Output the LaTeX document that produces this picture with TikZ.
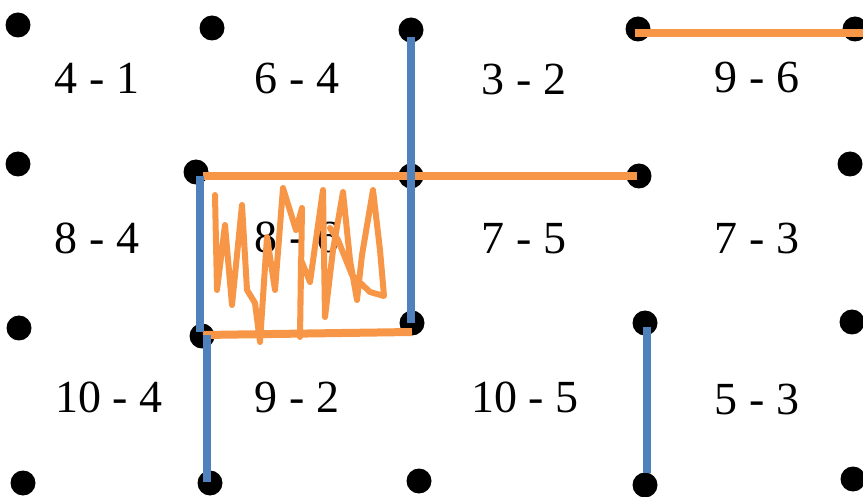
\documentclass[tikz,border=0pt]{standalone}
\usepackage{fontspec}
\setmainfont{Liberation Serif}
\usetikzlibrary{calc}
\definecolor{oblue}{HTML}{4F81BD}
\definecolor{oorange}{HTML}{F79646}
\begin{document}
\begin{tikzpicture}[x=1pt,y=-1pt,
  dot/.style={circle,fill=black,inner sep=0pt,minimum width=24pt,minimum height=25pt},
  lbl/.style={font=\fontsize{46}{50}\selectfont,inner sep=0pt,anchor=base},
  bline/.style={draw=oblue,line width=8pt},
  oline/.style={draw=oorange,line width=8pt},
  scrib/.style={draw=oorange,line width=6pt,line join=round,line cap=round}]
\useasboundingbox (0,0) rectangle (863,497);
% dots
\node[dot] (d11) at (18,25) {};
\node[dot] (d12) at (212,28) {};
\node[dot] (d13) at (411,30) {};
\node[dot] (d14) at (638,29) {};
\node[dot] (d15) at (855,29) {};
\node[dot] (d21) at (18,164) {};
\node[dot] (d22) at (196,172) {};
\node[dot] (d23) at (411,176) {};
\node[dot] (d24) at (639,176) {};
\node[dot] (d25) at (850,164) {};
\node[dot] (d31) at (19,328) {};
\node[dot] (d32) at (202,336) {};
\node[dot] (d33) at (412,323) {};
\node[dot] (d34) at (645,323) {};
\node[dot] (d35) at (852,322) {};
\node[dot] (d41) at (23,483) {};
\node[dot] (d42) at (210,483) {};
\node[dot] (d43) at (419,481) {};
\node[dot] (d44) at (645,485) {};
\node[dot] (d45) at (853,479) {};
% labels (baseline positions)
\node[lbl] (l11) at (97,94) {4 - 1};
\node[lbl] (l12) at (297,94) {6 - 4};
\node[lbl] (l13) at (524,95) {3 - 2};
\node[lbl] (l14) at (757,93) {9 - 6};
\node[lbl] (l21) at (97,254) {8 - 4};
\node[lbl] (l22) at (297,253) {8 - 6};
\node[lbl] (l23) at (524,254) {7 - 5};
\node[lbl] (l24) at (757,254) {7 - 3};
\node[lbl] (l31) at (109,413) {10 - 4};
\node[lbl] (l32) at (297,413) {9 - 2};
\node[lbl] (l33) at (525,413) {10 - 5};
\node[lbl] (l34) at (757,414) {5 - 3};
% free end at right edge
\coordinate (redge) at (863,33);
% orange lines
\draw[oline] ($(d14.center)+(-3,4)$) -- (redge);
\draw[oline] ($(d22.center)+(7,4)$) -- ($(d24.center)+(-2,0)$);
\draw[oline] ($(d32.center)+(1,-1)$) -- ($(d33.center)+(0,9)$);
% scribble
\draw[scrib] (215,195) -- (217,290) -- (225,225) -- (232,305) -- (242,205) -- (247,290)
  -- (255,303) -- (260,342) -- (267,237) -- (275,290) -- (283,188) -- (296,230)
  -- (302,208) -- (300,337) -- (301,260) -- (310,282) -- (323,190) -- (325,317)
  -- (333,250) -- (343,192) -- (350,260) -- (357,300) -- (362,255) -- (373,190)
  -- (380,250) -- (384,296) -- (370,292) -- (352,275) -- (338,240) -- (330,228);
% blue lines
\draw[bline] ($(d13.center)+(0,7)$) -- ($(d33.center)+(-1,0)$);
\draw[bline] ($(d22.center)+(4,4)$) -- ($(d32.center)+(-2,-4)$);
\draw[bline] ($(d32.center)+(5,-1)$) -- ($(d42.center)+(-3,-1)$);
\draw[bline] ($(d34.center)+(2,4)$) -- ($(d44.center)+(2,-12)$);
\end{tikzpicture}
\end{document}
